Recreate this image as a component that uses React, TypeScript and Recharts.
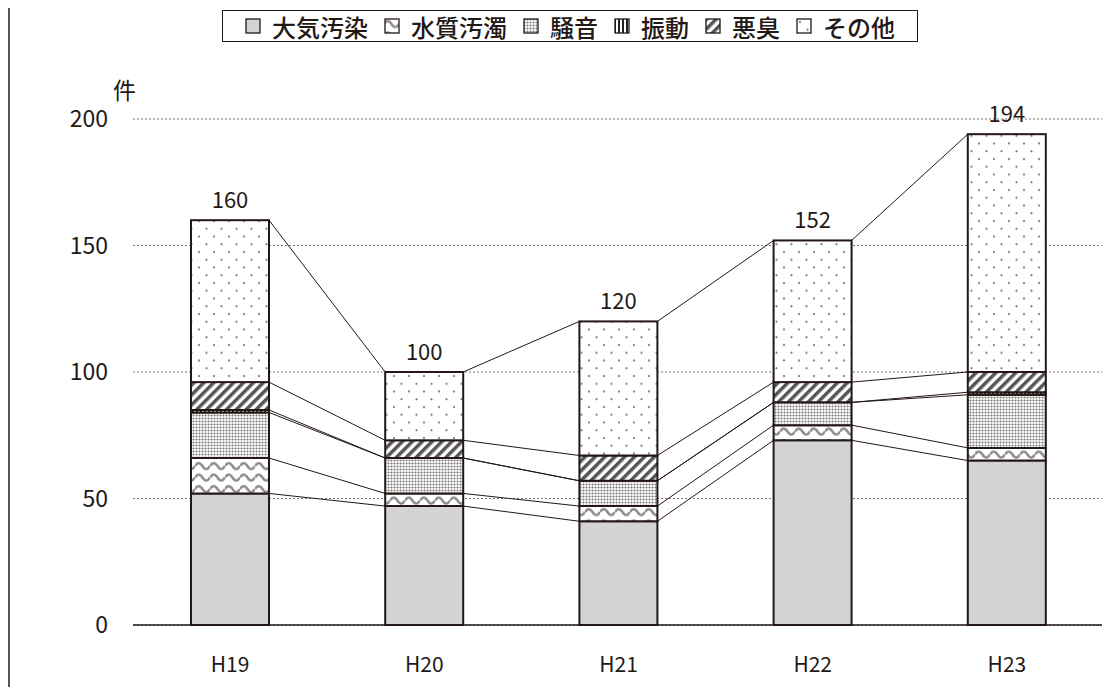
import React from "react";
import { BarChart, Bar, XAxis, YAxis, CartesianGrid, LabelList } from "recharts";

const years = ["H19", "H20", "H21", "H22", "H23"];
const air = [52, 47, 41, 73, 65];
const water = [14, 5, 6, 6, 5];
const noise = [18, 14, 10, 9, 21];
const vibration = [1, 0, 0, 0, 1];
const odor = [11, 7, 10, 8, 8];
const other = [64, 27, 53, 56, 94];
const yTicks = [0, 50, 100, 150, 200];

const series = [
  { key: "air", name: "大気汚染", fill: "#d3d3d3" },
  { key: "water", name: "水質汚濁", fill: "url(#pWater)" },
  { key: "noise", name: "騒音", fill: "url(#pNoise)" },
  { key: "vibration", name: "振動", fill: "url(#pVib)" },
  { key: "odor", name: "悪臭", fill: "url(#pOdor)" },
  { key: "other", name: "その他", fill: "url(#pOther)" },
];

const data = years.map((year, i) => ({
  year,
  air: air[i],
  water: water[i],
  noise: noise[i],
  vibration: vibration[i],
  odor: odor[i],
  other: other[i],
  total: air[i] + water[i] + noise[i] + vibration[i] + odor[i] + other[i],
}));

const W = 1110;
const H = 695;
const MARGIN = { top: 119, right: 6, left: 0, bottom: 0 };
const Y_WIDTH = 133;
const STEP = (W - MARGIN.left - MARGIN.right - Y_WIDTH) / years.length;
const INK = "#231815";
const FONT = "'Noto Sans CJK JP', 'Noto Sans', sans-serif";

const cumulative = (row: any) => {
  let acc = 0;
  return series.map((s) => (acc += row[s.key]));
};

// top segment also draws the connector lines to the next bar
const OtherShape = (props: any) => {
  const { x, y, width, height, index, fill } = props;
  const row = data[index];
  const ppu = height / row.other;
  const zeroY = y + row.total * ppu;
  const lines: React.ReactNode[] = [];
  if (index < data.length - 1) {
    const cur = cumulative(row);
    const nxt = cumulative(data[index + 1]);
    cur.forEach((c, k) => {
      lines.push(
        <line
          key={k}
          x1={x + width}
          y1={zeroY - c * ppu}
          x2={x + STEP}
          y2={zeroY - nxt[k] * ppu}
          stroke={INK}
          strokeWidth={1}
        />
      );
    });
  }
  return (
    <g>
      <rect x={x} y={y} width={width} height={height} fill={fill} stroke={INK} strokeWidth={2} />
      {lines}
    </g>
  );
};

const LegendBox = () => (
  <div
    style={{
      position: "absolute",
      left: 222,
      top: 10,
      width: 696,
      height: 32,
      boxSizing: "border-box",
      display: "flex",
      alignItems: "center",
      justifyContent: "center",
      border: `1.5px solid ${INK}`,
      background: "#fff",
      fontFamily: FONT,
      fontSize: 24,
      fontWeight: 500,
      color: INK,
      whiteSpace: "nowrap",
    }}
  >
    {series.map((s, i) => (
      <div key={s.key} style={{ display: "flex", alignItems: "center", marginLeft: i ? 16 : 0 }}>
        <svg width={16} height={16} style={{ marginRight: 11 }}>
          <rect x={1} y={1} width={14} height={14} fill={s.fill} stroke={INK} strokeWidth={1.3} />
        </svg>
        <span>{s.name}</span>
      </div>
    ))}
  </div>
);

export default function App() {
  return (
    <div style={{ position: "relative", width: W, height: H, margin: -8, overflow: "hidden", background: "#fff" }}>
      <div
        style={{
          position: "absolute",
          left: 8,
          top: 1,
          width: 1300,
          height: 900,
          borderLeft: "2px solid #555",
          borderTop: "2px solid #555",
        }}
      />
      <BarChart width={W} height={H} data={data} margin={MARGIN} barSize={78}>
        <defs>
          <pattern id="pWater" width={15} height={11.5} patternUnits="userSpaceOnUse">
            <rect width={15} height={11.5} fill="#fff" />
            <path d="M0 6 Q3.75 0 7.5 6 T15 6" fill="none" stroke="#8c8c8c" strokeWidth={2.4} />
          </pattern>
          <pattern id="pNoise" width={3} height={3} patternUnits="userSpaceOnUse">
            <rect width={3} height={3} fill="#fff" />
            <circle cx={1.5} cy={1.5} r={1.05} fill="#777" />
          </pattern>
          <pattern id="pVib" width={4} height={4} patternUnits="userSpaceOnUse">
            <rect width={4} height={4} fill="#fff" />
            <rect width={2} height={4} fill="#222" />
          </pattern>
          <pattern id="pOdor" width={7} height={7} patternUnits="userSpaceOnUse" patternTransform="rotate(45)">
            <rect width={7} height={7} fill="#fff" />
            <rect width={3.5} height={7} fill="#555" />
          </pattern>
          <pattern id="pOther" width={15} height={15.5} patternUnits="userSpaceOnUse">
            <rect width={15} height={15.5} fill="#fff" />
            <circle cx={4} cy={4} r={1.1} fill="#7a7a7a" />
            <circle cx={11.5} cy={11.75} r={1.1} fill="#7a7a7a" />
          </pattern>
        </defs>
        <CartesianGrid vertical={false} stroke="#777" strokeDasharray="2 2" />
        <XAxis
          dataKey="year"
          axisLine={{ stroke: INK, strokeWidth: 1.5 }}
          tickLine={false}
          tickSize={0}
          tickMargin={32}
          height={70}
          tick={{ fontSize: 21, fill: INK, fontFamily: FONT }}
        />
        <YAxis
          domain={[0, 200]}
          ticks={yTicks}
          axisLine={false}
          tickLine={false}
          tickSize={0}
          tickMargin={25}
          width={Y_WIDTH}
          tick={{ fontSize: 23, fill: INK, fontFamily: FONT }}
        />
        {series.map((s) => (
          <Bar
            key={s.key}
            dataKey={s.key}
            name={s.name}
            stackId="a"
            fill={s.fill}
            stroke={INK}
            strokeWidth={2}
            isAnimationActive={false}
            shape={s.key === "other" ? OtherShape : undefined}
          >
            {s.key === "other" && (
              <LabelList
                dataKey="total"
                position="top"
                offset={12}
                style={{ fontSize: 22, fill: INK, fontFamily: FONT }}
              />
            )}
          </Bar>
        ))}
      </BarChart>
      <LegendBox />
      <div
        style={{
          position: "absolute",
          left: 113,
          top: 72,
          fontFamily: FONT,
          fontSize: 23,
          color: INK,
        }}
      >
        件
      </div>
    </div>
  );
}
